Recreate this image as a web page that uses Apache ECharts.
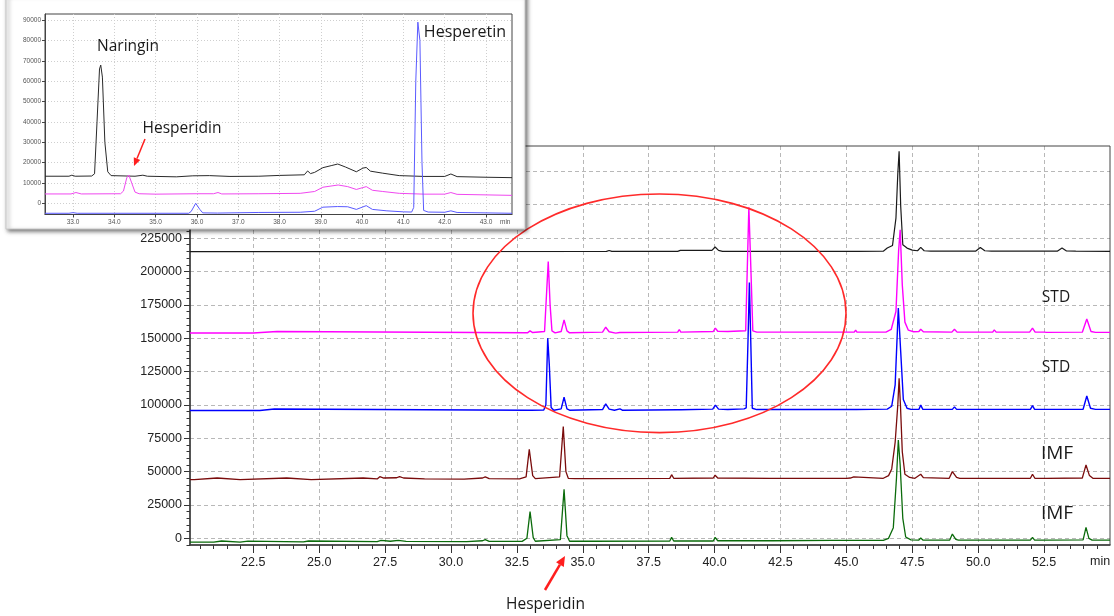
<!DOCTYPE html>
<html>
<head>
<meta charset="utf-8">
<script src="https://cdn.jsdelivr.net/npm/echarts@6/dist/echarts.min.js"></script>
<style>
  html, body { margin: 0; padding: 0; background: #fff; }
  #main { width: 1114px; height: 616px; }
</style>
</head>
<body>
<div id="main"></div>
<script>
// ---- main chromatogram: tick values ----
const mainXTicks = [22.5, 25.0, 27.5, 30.0, 32.5, 35.0, 37.5, 40.0, 42.5, 45.0, 47.5, 50.0, 52.5]
const mainYTicks = [0, 25000, 50000, 75000, 100000, 125000, 150000, 175000, 200000, 225000, 250000, 275000]
// ---- inset chromatogram: tick values ----
const insetXTicks = [33.0, 34.0, 35.0, 36.0, 37.0, 38.0, 39.0, 40.0, 41.0, 42.0, 43.0]
const insetYTicks = [0, 10000, 20000, 30000, 40000, 50000, 60000, 70000, 80000, 90000]

// ---- main traces, [retention time (min), intensity] ----
const sampleBlack = [
  [20.1, 214900], [35.9, 215000], [36.0, 215700], [36.1, 215000], [38.6, 215000], [38.7, 215800],
  [39.9, 215800], [40.02, 218300], [40.15, 215800], [40.3, 215000], [42.1, 215000], [42.15, 216000],
  [42.2, 215000], [43.85, 215000], [43.9, 216000], [43.95, 215000], [44.9, 215000], [44.95, 216000],
  [45.0, 215000], [45.25, 215000], [45.3, 216000], [45.35, 215000], [46.4, 215200], [46.55, 217500],
  [46.75, 219500], [46.88, 240000], [46.95, 273000], [47.0, 290000], [47.06, 249000], [47.14, 220000],
  [47.3, 217500], [47.5, 216000], [47.7, 215500], [47.82, 218000], [47.95, 215500], [48.2, 215200],
  [49.9, 215200], [50.08, 218000], [50.25, 215500], [50.5, 215200], [53.0, 215200], [53.18, 217500],
  [53.35, 215300], [53.7, 215200], [55.0, 215000]
]
const stdMagenta = [
  [20.1, 153900], [22.5, 153900], [22.52, 155000], [23.4, 155000], [23.42, 153900], [32.9, 154000],
  [33.0, 155500], [33.1, 154200], [33.55, 155000], [33.69, 207500], [33.76, 175000], [33.83, 155500],
  [33.95, 154000], [34.18, 155000], [34.29, 163700], [34.4, 155500], [34.5, 154000], [35.75, 154500],
  [35.87, 158200], [36.0, 154800], [36.25, 153800], [36.4, 154200], [38.6, 154500], [38.66, 156500],
  [38.72, 154500], [39.95, 155000], [40.03, 157500], [40.12, 155200], [40.5, 155000], [41.18, 155500],
  [41.3, 248000], [41.38, 200000], [41.45, 155500], [41.6, 154500], [42.1, 154500], [42.15, 155500],
  [42.2, 154500], [43.9, 154500], [43.95, 155500], [44.0, 154500], [45.3, 154500], [45.35, 156000],
  [45.4, 154500], [46.5, 154500], [46.7, 156500], [46.88, 170000], [46.98, 215000], [47.04, 231200],
  [47.12, 190000], [47.22, 162000], [47.35, 156000], [47.55, 154800], [47.75, 155000], [47.82, 156700],
  [47.92, 154800], [49.0, 154500], [49.1, 156700], [49.2, 154500], [50.55, 154500], [50.61, 156200],
  [50.68, 154500], [51.95, 154500], [52.06, 157500], [52.16, 154500], [52.5, 154500], [52.54, 155500],
  [52.6, 154300], [53.95, 154500], [54.12, 164300], [54.28, 155000], [54.45, 154300], [55.0, 154300]
]
const stdBlue = [
  [20.1, 95800], [22.75, 95800], [22.77, 96900], [23.3, 96900], [23.32, 95800], [32.9, 96000],
  [32.97, 97000], [33.05, 96000], [33.52, 96200], [33.6, 100000], [33.67, 150000], [33.73, 130000],
  [33.8, 98000], [33.9, 96000], [34.18, 97000], [34.29, 105700], [34.4, 97000], [34.5, 96000],
  [35.75, 96500], [35.87, 100700], [36.0, 96800], [36.2, 96000], [36.41, 97000], [36.5, 96000],
  [38.6, 96300], [38.66, 97500], [38.72, 96300], [39.93, 96800], [40.03, 99800], [40.15, 96800],
  [40.5, 96500], [41.12, 97000], [41.2, 97800], [41.27, 150000], [41.32, 191700], [41.37, 150000],
  [41.43, 97500], [41.6, 96500], [43.75, 96500], [43.81, 97500], [43.87, 96500], [44.5, 96500],
  [44.57, 97500], [44.64, 96500], [45.3, 96500], [45.33, 97500], [45.38, 96500], [46.55, 96800],
  [46.72, 99000], [46.85, 115000], [46.97, 172500], [47.06, 140000], [47.16, 104000], [47.3, 97500],
  [47.45, 96600], [47.75, 96600], [47.82, 99800], [47.9, 96600], [49.02, 96600], [49.1, 98500],
  [49.18, 96600], [50.55, 96600], [50.61, 98000], [50.68, 96600], [51.98, 96600], [52.06, 99500],
  [52.14, 96600], [52.5, 96600], [52.54, 97300], [52.6, 96600], [53.98, 96700], [54.12, 106700],
  [54.26, 97500], [54.45, 96600], [55.0, 96600]
]
const imfBrown = [
  [20.1, 44000], [20.26, 44000], [20.28, 45200], [21.13, 45200], [21.15, 44000], [22.0, 44000],
  [22.02, 45200], [23.77, 45200], [23.79, 44000], [24.7, 44000], [24.72, 45200], [26.67, 45200],
  [26.69, 44200], [27.2, 44500], [27.3, 46200], [27.45, 45200], [27.94, 45400], [28.05, 46300],
  [28.2, 45200], [29.0, 44600], [30.5, 44400], [31.2, 45200], [31.3, 46000], [31.45, 44800],
  [32.6, 44600], [32.85, 46000], [32.97, 66700], [33.1, 47000], [33.2, 44700], [34.12, 46000],
  [34.26, 83700], [34.36, 50000], [34.45, 45000], [34.7, 44800], [35.15, 44800], [35.21, 46000],
  [35.3, 44800], [38.3, 44900], [38.37, 47700], [38.45, 45000], [39.95, 45200], [40.02, 47300],
  [40.12, 45200], [42.1, 45000], [42.15, 45700], [42.2, 45000], [43.9, 45000], [43.94, 45800],
  [44.0, 45000], [44.45, 45000], [44.5, 46000], [44.56, 45000], [45.0, 45000], [45.05, 46000],
  [45.15, 45200], [45.28, 46000], [45.35, 45000], [46.4, 45000], [46.6, 47000], [46.72, 52000],
  [46.85, 72000], [46.95, 100000], [47.0, 120000], [47.05, 100000], [47.12, 65000], [47.22, 48000],
  [47.4, 45600], [47.6, 45000], [47.82, 48000], [47.92, 45500], [48.9, 45000], [49.02, 50000],
  [49.18, 45600], [49.3, 45000], [50.55, 45000], [50.61, 46300], [50.68, 45000], [51.98, 45000],
  [52.06, 48000], [52.15, 45000], [52.5, 45000], [52.54, 45800], [52.6, 45000], [53.95, 45200],
  [54.09, 55000], [54.22, 47000], [54.35, 45000], [55.0, 45000]
]
const imfGreen = [
  [20.1, -2800], [21.0, -2800], [21.05, -2000], [21.3, -2000], [21.35, -2800], [22.0, -2800],
  [22.05, -2100], [22.3, -2100], [22.35, -2800], [24.4, -2700], [24.45, -2000], [24.6, -2000],
  [24.65, -2700], [27.2, -2400], [27.35, -1500], [27.7, -2200], [28.0, -1600], [28.3, -2300],
  [30.6, -2400], [31.2, -1800], [31.3, -1000], [31.45, -2300], [32.7, -2300], [32.88, 0],
  [33.0, 20000], [33.12, 500], [33.2, -2200], [34.15, -1000], [34.29, 36700], [34.4, 2000],
  [34.5, -2200], [35.15, -2200], [35.21, -1000], [35.3, -2200], [38.3, -2000], [38.37, 700],
  [38.45, -2000], [39.95, -2000], [40.02, 700], [40.12, -1800], [42.1, -1800], [42.15, -1000],
  [42.2, -1800], [44.45, -1600], [44.5, -600], [44.58, -1600], [45.25, -1600], [45.3, -600],
  [45.38, -1600], [46.4, -1500], [46.6, 0], [46.78, 8000], [46.9, 45000], [46.97, 73700],
  [47.04, 55000], [47.14, 15000], [47.25, 1000], [47.45, -1200], [47.75, -1300], [47.82, 200],
  [47.9, -1300], [48.92, -1300], [49.02, 3200], [49.15, -800], [49.25, -1300], [50.55, -1300],
  [50.61, -300], [50.68, -1300], [51.98, -1300], [52.06, 700], [52.14, -1300], [52.5, -1300],
  [52.54, -700], [52.6, -1300], [53.98, -1200], [54.09, 8200], [54.2, 0], [54.32, -1300],
  [55.0, -1300]
]

// ---- inset traces ----
const insetBlack = [
  [32.32, 13300], [32.9, 13300], [32.97, 13800], [33.05, 13300], [33.45, 13400], [33.52, 14500],
  [33.58, 40000], [33.64, 66000], [33.67, 67900], [33.71, 62000], [33.77, 30000], [33.84, 15500],
  [33.92, 13600], [34.5, 13300], [34.69, 13800], [34.8, 13300], [35.5, 13000], [35.9, 13500],
  [36.3, 13600], [36.8, 13200], [37.5, 13300], [38.0, 13700], [38.6, 14000], [38.68, 15900],
  [38.75, 14600], [38.85, 15200], [39.05, 17500], [39.25, 18500], [39.41, 19300], [39.6, 17800],
  [39.86, 15500], [40.02, 17300], [40.1, 17600], [40.2, 15800], [40.5, 14800], [40.9, 13600],
  [41.5, 13200], [42.0, 13200], [42.15, 14400], [42.3, 13100], [43.0, 12800], [43.63, 12600]
]
const insetMagenta = [
  [32.32, 4600], [32.95, 4600], [33.07, 5300], [33.2, 4600], [34.15, 4700], [34.22, 6000],
  [34.3, 12500], [34.35, 13900], [34.42, 10000], [34.5, 5500], [34.6, 4700], [35.0, 4500],
  [36.0, 4700], [36.4, 4700], [36.51, 5300], [36.6, 4600], [37.5, 4700], [38.5, 4900],
  [38.85, 5800], [39.05, 7900], [39.42, 9000], [39.65, 8200], [39.86, 6800], [40.1, 8200],
  [40.25, 6400], [40.5, 5800], [40.9, 4900], [41.5, 4500], [42.0, 4500], [42.15, 5300],
  [42.3, 4400], [43.63, 3900]
]
const insetBlue = [
  [32.32, -4900], [32.9, -4900], [33.0, -4600], [33.1, -4900], [35.8, -4900], [35.86, -4000],
  [35.97, 0], [36.07, -3000], [36.14, -4700], [36.5, -4800], [37.5, -4500], [38.5, -4400],
  [38.85, -3900], [39.05, -1900], [39.4, -1600], [39.65, -1700], [39.86, -3000], [40.1, -1150],
  [40.25, -3000], [40.6, -3700], [41.0, -4200], [41.2, -4300], [41.25, -2000], [41.3, 60000],
  [41.35, 89000], [41.4, 80000], [41.45, 20000], [41.49, -3500], [41.6, -4300], [42.0, -4400],
  [42.15, -3700], [42.3, -4500], [43.63, -4900]
]

// minor tick positions (every step between a and b)
function steps(a, b, step) {
  const out = []
  for (let v = a; v <= b + 1e-9; v += step) out.push(+v.toFixed(4))
  return out
}

const labelFont = 'Liberation Sans, Arial, sans-serif'
const noteFont = 'Open Sans, Noto Sans, sans-serif'

function trace(data, color, width, axisIdx, z) {
  return {
    type: 'line',
    data: data,
    xAxisIndex: axisIdx,
    yAxisIndex: axisIdx,
    symbol: 'none',
    silent: true,
    z: z,
    lineStyle: { color: color, width: width }
  }
}

// red arrow = shaft line + triangle head
function arrow(x1, y1, x2, y2, head, half, width) {
  const len = Math.hypot(x2 - x1, y2 - y1)
  const ux = (x2 - x1) / len, uy = (y2 - y1) / len
  const bx = x2 - ux * head, by = y2 - uy * head
  return [
    { type: 'line', z: 45, shape: { x1: x1, y1: y1, x2: bx, y2: by },
      style: { stroke: '#ff1e1e', lineWidth: width } },
    { type: 'polygon', z: 45,
      shape: { points: [[x2, y2], [bx - uy * half, by + ux * half], [bx + uy * half, by - ux * half]] },
      style: { fill: '#ff1e1e' } }
  ]
}

function note(text, x, y, size) {
  return {
    type: 'text', z: 45, x: x, y: y,
    style: { text: text, fill: '#1a1a1a', fontSize: size, fontFamily: noteFont,
      align: 'center', verticalAlign: 'middle' }
  }
}

const plain = v => String(v)   // no thousands separators

const chart = echarts.init(document.getElementById('main'))

const option = {
  animation: false,
  backgroundColor: '#fff',
  grid: [
    { left: 190, right: 4, top: 146, bottom: 71, show: true, borderColor: '#444', borderWidth: 1,
      backgroundColor: 'transparent', outerBoundsMode: 'none', z: 2 },
    { left: 45, right: 602, top: 14, bottom: 401.5, show: true, borderColor: '#444', borderWidth: 1,
      backgroundColor: 'transparent', outerBoundsMode: 'none', z: 30 }
  ],
  xAxis: [
    {
      type: 'value', gridIndex: 0, min: 20.1, max: 55, position: 'bottom',
      axisLine: { show: true, onZero: false, lineStyle: { color: '#333', width: 1.5 } },
      axisTick: { show: true, customValues: mainXTicks, length: 8, lineStyle: { color: '#333' } },
      axisLabel: { customValues: mainXTicks, formatter: v => v.toFixed(1), color: '#222',
        fontSize: 12.5, fontFamily: labelFont, margin: 11 },
      splitLine: { show: true, lineStyle: { color: '#b8b8b8', type: [4, 3] } },
      name: 'min', nameLocation: 'end', nameGap: -20,
      nameTextStyle: { color: '#222', fontSize: 12.5, fontFamily: labelFont, align: 'left',
        verticalAlign: 'top', padding: [10, 0, 0, 0] }
    },
    {
      // minor ticks of the main time axis
      type: 'value', gridIndex: 0, min: 20.1, max: 55, position: 'bottom', offset: 0,
      axisLine: { show: false, onZero: false },
      axisTick: { show: true, customValues: steps(20.5, 54.5, 0.5), length: 4, lineStyle: { color: '#333' } },
      axisLabel: { show: false }, splitLine: { show: false }
    },
    {
      type: 'value', gridIndex: 1, min: 32.32, max: 43.63, z: 30, position: 'bottom',
      axisLine: { show: true, onZero: false, lineStyle: { color: '#444', width: 1 } },
      axisTick: { show: true, customValues: insetXTicks, length: 3, lineStyle: { color: '#444' } },
      axisLabel: { customValues: insetXTicks, formatter: v => v.toFixed(1), color: '#555',
        fontSize: 6.5, fontFamily: labelFont, margin: 4 },
      splitLine: { show: true, lineStyle: { color: '#cfcfcf', type: [1, 2] } },
      name: 'min', nameLocation: 'end', nameGap: -12,
      nameTextStyle: { color: '#555', fontSize: 6.5, fontFamily: labelFont, align: 'left',
        verticalAlign: 'top', padding: [4, 0, 0, 0] }
    }
  ],
  yAxis: [
    {
      type: 'value', gridIndex: 0, min: -5000, max: 294000, position: 'left',
      axisLine: { show: true, onZero: false, lineStyle: { color: '#333', width: 1.5 } },
      axisTick: { show: true, customValues: mainYTicks, length: 6, lineStyle: { color: '#333' } },
      axisLabel: { customValues: mainYTicks, formatter: plain, color: '#222', fontSize: 12.5,
        fontFamily: labelFont, margin: 8 },
      splitLine: { show: true, lineStyle: { color: '#b8b8b8', type: [4, 3] } }
    },
    {
      // minor ticks of the main intensity axis
      type: 'value', gridIndex: 0, min: -5000, max: 294000, position: 'left', offset: 0,
      axisLine: { show: false, onZero: false },
      axisTick: { show: true, customValues: steps(-5000, 290000, 5000), length: 3.5, lineStyle: { color: '#333' } },
      axisLabel: { show: false }, splitLine: { show: false }
    },
    {
      type: 'value', gridIndex: 1, min: -5500, max: 93000, z: 30, position: 'left',
      axisLine: { show: true, onZero: false, lineStyle: { color: '#444', width: 1 } },
      axisTick: { show: true, customValues: insetYTicks, length: 3, lineStyle: { color: '#444' } },
      axisLabel: { customValues: insetYTicks, formatter: plain, color: '#555', fontSize: 6.5,
        fontFamily: labelFont, margin: 4 },
      splitLine: { show: true, lineStyle: { color: '#cfcfcf', type: [1, 2] } }
    }
  ],
  series: [
    trace(sampleBlack, '#1a1a1a', 1.2, 0, 3),
    trace(stdMagenta, '#ff00ff', 1.4, 0, 3),
    trace(stdBlue, '#0000ff', 1.4, 0, 3),
    trace(imfBrown, '#7a0c0c', 1.3, 0, 3),
    trace(imfGreen, '#0b6b0b', 1.3, 0, 3),
    trace(insetBlack, '#2a2a2a', 1, 2, 31),
    trace(insetMagenta, '#f048f0', 1, 2, 31),
    trace(insetBlue, '#5a5aff', 1, 2, 31)
  ],
  graphic: [
    // red circle drawn around the standard peaks
    { type: 'ellipse', z: 10, shape: { cx: 659.5, cy: 313.3, rx: 186.5, ry: 119.3 },
      style: { fill: 'none', stroke: '#ff2a2a', lineWidth: 1.6 } },
    // white panel of the pasted inset
    { type: 'rect', z: 20, shape: { x: 6, y: -6, width: 519, height: 235 },
      style: { fill: '#fff', stroke: '#c8c8c8', lineWidth: 1, shadowBlur: 4,
        shadowOffsetX: 2, shadowOffsetY: 2, shadowColor: 'rgba(0,0,0,0.55)' } },
    note('Naringin', 128, 47, 15.5),
    note('Hesperidin', 182, 129, 15.5),
    note('Hesperetin', 465, 32, 16),
    note('STD', 1056, 297.5, 15.5),
    note('STD', 1056, 367.5, 15.5),
    note('IMF', 1057, 454, 19),
    note('IMF', 1057, 514, 19),
    note('Hesperidin', 545.5, 605, 15.5),
    ...arrow(145, 139, 134, 166, 8, 3.5, 1.5),
    ...arrow(545, 590, 565, 556, 10, 4.5, 2.5)
  ]
}

chart.setOption(option)
</script>
</body>
</html>
